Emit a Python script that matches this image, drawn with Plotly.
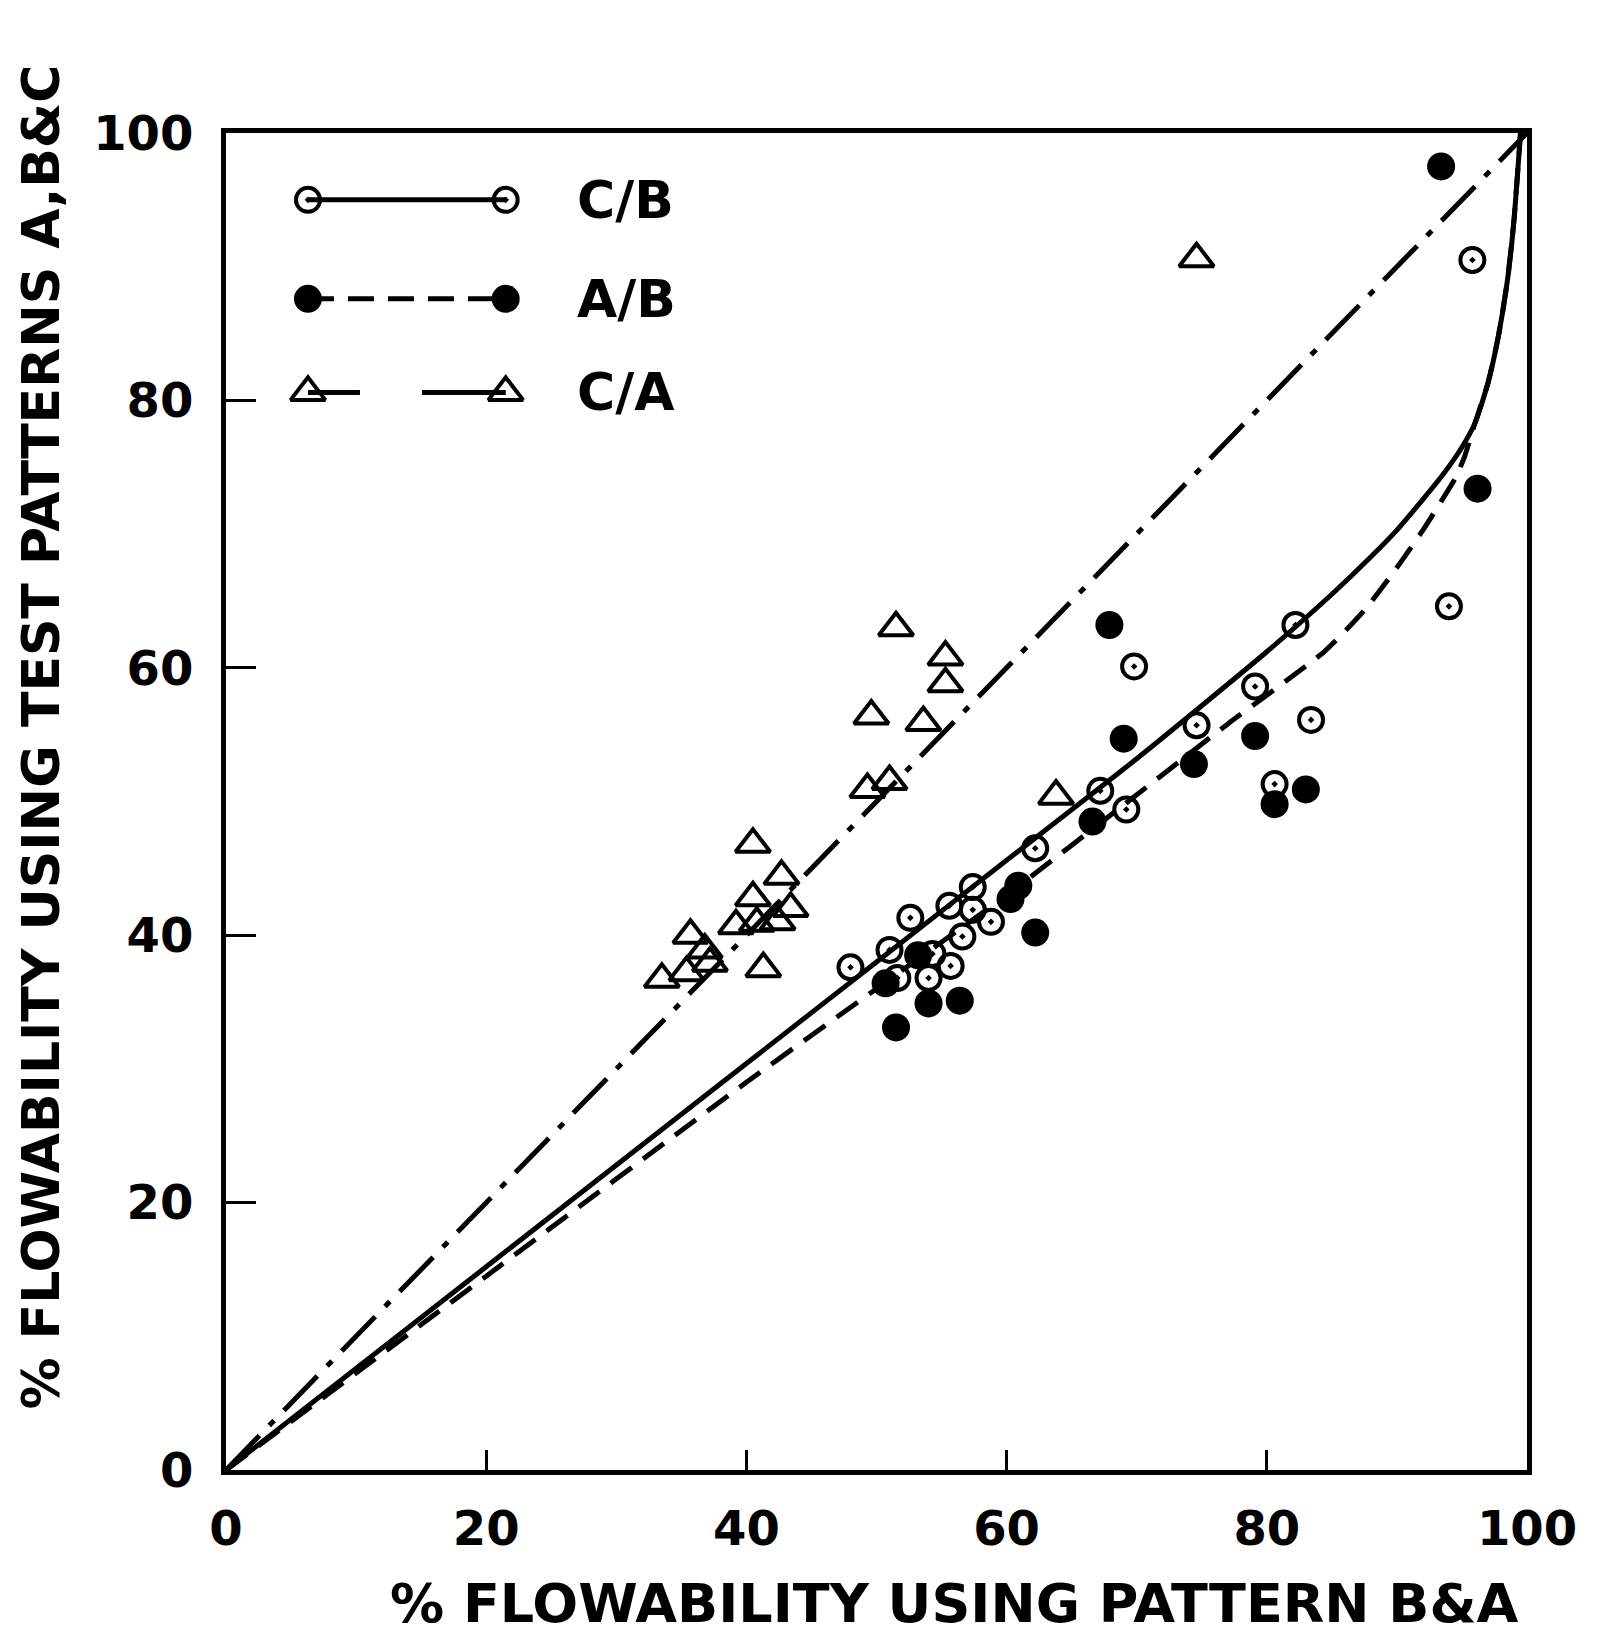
import plotly.graph_objects as go

# ---------------- data ----------------
# C/B : open circles with dot
cb_x = [95.8, 94.0, 82.2, 69.8, 79.1, 83.4, 74.6, 80.6, 67.2, 69.2, 62.2, 57.4, 55.6,
        52.6, 56.6, 51.0, 48.0, 51.6, 54.0, 55.7, 58.8, 57.4, 54.3]
cb_y = [90.5, 64.6, 63.2, 60.1, 58.6, 56.1, 55.7, 51.3, 50.8, 49.4, 46.5, 43.6, 42.2,
        41.3, 39.9, 38.9, 37.6, 36.8, 36.8, 37.7, 41.0, 41.9, 38.6]

# A/B : filled circles
ab_x = [93.4, 96.2, 67.9, 69.0, 79.1, 74.4, 83.0, 80.6, 62.2, 66.6, 51.5, 54.0, 56.4,
        50.7, 60.9, 60.3, 53.2]
ab_y = [97.5, 73.4, 63.2, 54.7, 54.9, 52.8, 50.9, 49.8, 40.2, 48.5, 33.1, 34.9, 35.1,
        36.4, 43.7, 42.7, 38.5]

# C/A : open triangles
ca_x = [74.6, 51.5, 55.3, 55.3, 49.6, 53.6, 49.3, 51.0, 40.5, 63.8, 42.7, 40.5, 43.4,
        39.2, 40.8, 42.4, 41.3, 35.7, 36.8, 35.4, 37.2, 33.5]
ca_y = [90.6, 63.0, 60.8, 58.8, 56.4, 55.9, 50.9, 51.5, 46.8, 50.4, 44.4, 42.8, 42.0,
        40.7, 40.9, 41.0, 37.5, 40.0, 38.9, 37.2, 37.9, 36.7]

# fitted curves
cb_fit_x = [0, 20, 40, 50, 60, 70, 80, 85, 88, 90, 92, 93.5, 95, 96, 97, 97.8, 98.5, 99.0, 99.5]
cb_fit_y = [0, 15.2, 30.4, 38.0, 45.6, 53.2, 61.2, 65.5, 68.3, 70.3, 72.6, 74.4, 76.5, 78.3, 81.3, 84.8, 89.0, 93.5, 100]

ab_fit_x = [0, 20, 40, 50, 60, 70, 77, 84.4, 87.5, 90, 92, 93.5, 94.5, 95.2, 96, 97, 97.8, 98.5, 99.0, 99.5]
ab_fit_y = [0, 14.5, 29.0, 36.0, 43.0, 50.5, 55.8, 61.2, 64.3, 67.5, 70.3, 72.6, 74.2, 75.8, 78.3, 81.3, 84.8, 89.0, 93.5, 100]

ca_fit_x = [0, 100]
ca_fit_y = [0, 100]

tick_vals = [0, 20, 40, 60, 80, 100]
tick_text = ["0", "20", "40", "60", "80", "100"]

series_names = ["C/B", "A/B", "C/A"]

FONT = "DejaVu Sans"
BLACK = "black"

cb_marker = dict(symbol="circle-open-dot", size=24, color=BLACK, line=dict(width=4, color=BLACK))
ab_marker = dict(symbol="circle", size=28, color=BLACK, line=dict(width=0))
ca_marker = dict(symbol="triangle-up-open", size=30, color=BLACK, line=dict(width=4, color=BLACK))

cb_line = dict(color=BLACK, width=5)
ab_line = dict(color=BLACK, width=5, dash="26px,14px")
ca_line = dict(color=BLACK, width=5, dash="48px,14px,7px,14px")
ca_legend_line = dict(color=BLACK, width=5, dash="52px,62px,90px")

fig = go.Figure()

# fitted lines
fig.add_trace(go.Scatter(x=ca_fit_x, y=ca_fit_y, mode="lines", line=ca_line, hoverinfo="skip"))
fig.add_trace(go.Scatter(x=cb_fit_x, y=cb_fit_y, mode="lines",
                         line=dict(cb_line, shape="spline", smoothing=0.6), hoverinfo="skip"))
fig.add_trace(go.Scatter(x=ab_fit_x, y=ab_fit_y, mode="lines",
                         line=dict(ab_line, shape="spline", smoothing=0.6), hoverinfo="skip"))

# data points
fig.add_trace(go.Scatter(x=ca_x, y=ca_y, mode="markers", marker=ca_marker, name="C/A"))
fig.add_trace(go.Scatter(x=ab_x, y=ab_y, mode="markers", marker=ab_marker, name="A/B"))
fig.add_trace(go.Scatter(x=cb_x, y=cb_y, mode="markers", marker=cb_marker, name="C/B"))

# ---------------- hand-drawn style legend (overlay axes 0..1) ----------------
leg_x0, leg_x1, leg_tx = 0.063, 0.215, 0.268
leg_rows = [0.950, 0.876, 0.806]
leg_styles = [(cb_line, cb_marker), (ab_line, ab_marker), (ca_legend_line, ca_marker)]
for name, yy, (ln, mk) in zip(series_names, leg_rows, leg_styles):
    fig.add_trace(go.Scatter(x=[leg_x0, leg_x1], y=[yy, yy], mode="lines+markers",
                             line=ln, marker=mk, xaxis="x2", yaxis="y2", hoverinfo="skip"))
annotations = []
for name, yy in zip(series_names, leg_rows):
    annotations.append(dict(x=leg_tx, y=yy, xref="x2", yref="y2", text=name, showarrow=False,
                            xanchor="left", yanchor="middle",
                            font=dict(family=FONT, size=52, color=BLACK, weight="bold")))

# axis titles
annotations.append(dict(x=0.56, y=-0.1, xref="paper", yref="paper",
                        text="% FLOWABILITY USING PATTERN B&A", showarrow=False,
                        xanchor="center", yanchor="middle",
                        font=dict(family=FONT, size=54, color=BLACK, weight="bold")))
annotations.append(dict(x=-0.142, y=0.548, xref="paper", yref="paper",
                        text="% FLOWABILITY USING TEST PATTERNS A,B&C", showarrow=False,
                        textangle=-90, xanchor="center", yanchor="middle",
                        font=dict(family=FONT, size=52, color=BLACK, weight="bold")))

axis_common = dict(range=[0, 100], showgrid=False, zeroline=False, showline=True,
                   linecolor=BLACK, linewidth=5, mirror=True, ticks="inside",
                   tickcolor=BLACK, tickwidth=3, tickvals=tick_vals, ticktext=tick_text,
                   tickfont=dict(family=FONT, size=48, color=BLACK, weight="bold"))

fig.update_layout(
    width=1602, height=1635,
    margin=dict(l=226, r=75, t=133, b=165),
    paper_bgcolor="white", plot_bgcolor="white",
    showlegend=False,
    xaxis=dict(axis_common, ticklen=20, ticklabelstandoff=12),
    yaxis=dict(axis_common, ticklen=30, ticklabelstandoff=18),
    xaxis2=dict(range=[0, 1], overlaying="x", visible=False, fixedrange=True),
    yaxis2=dict(range=[0, 1], overlaying="y", visible=False, fixedrange=True),
    annotations=annotations,
)

fig.write_html("out.html")
